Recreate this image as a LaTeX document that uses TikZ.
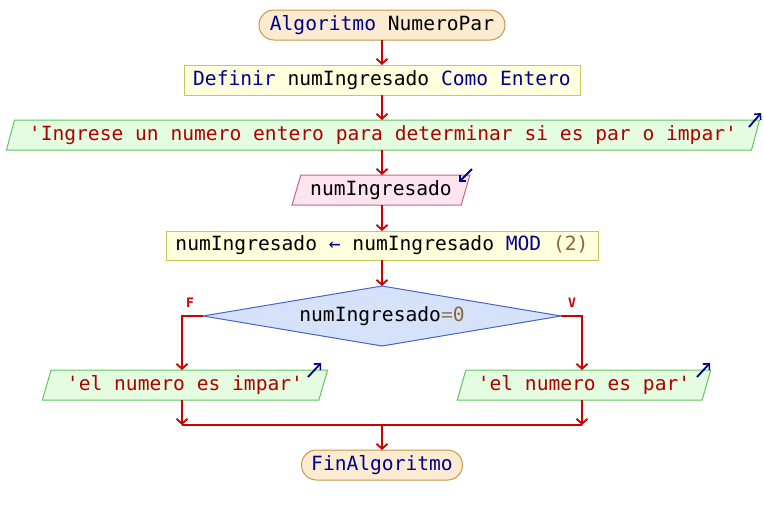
\documentclass[tikz,border=0pt]{standalone}
\usepackage{fontspec}
\setmainfont{DejaVu Sans Mono}
\setmonofont{DejaVu Sans Mono}
\usetikzlibrary{shapes.geometric,shapes.misc,arrows.meta}
\definecolor{kw}{HTML}{000090}
\definecolor{str}{HTML}{B00000}
\definecolor{num}{HTML}{8C6438}
\definecolor{opc}{HTML}{8C7C5C}
\definecolor{flow}{HTML}{CC0000}
\definecolor{termfill}{HTML}{FCEBD0}
\definecolor{termdraw}{HTML}{C8964B}
\definecolor{procfill}{HTML}{FFFFDD}
\definecolor{procdraw}{HTML}{C8C85A}
\definecolor{outfill}{HTML}{E4FCE0}
\definecolor{outdraw}{HTML}{64C464}
\definecolor{infill}{HTML}{FDE4EE}
\definecolor{indraw}{HTML}{C8648C}
\definecolor{condfill}{HTML}{D5E2FA}
\definecolor{conddraw}{HTML}{4664C8}
\begin{document}
\begin{tikzpicture}[x=1pt,y=-1pt,
  font=\ttfamily\fontsize{19.6}{22}\selectfont,
  every node/.style={inner sep=0pt, outer sep=0pt},
  term/.style={rounded rectangle, draw=termdraw, fill=termfill, line width=1pt, minimum height=30pt},
  proc/.style={rectangle, draw=procdraw, fill=procfill, line width=1pt, minimum height=30pt},
  para/.style={trapezium, trapezium stretches=true, trapezium left angle=68, trapezium right angle=112, line width=1pt, minimum height=30pt},
  outbox/.style={para, draw=outdraw, fill=outfill},
  inbox/.style={para, draw=indraw, fill=infill},
  cond/.style={diamond, draw=conddraw, fill=condfill, line width=1pt, aspect=6, minimum width=358pt, minimum height=60pt},
  flowline/.style={draw=flow, line width=2pt},
  flowarrow/.style={flowline, -{Straight Barb[length=5pt,width=11pt,line width=1.8pt]}},
  icon/.style={draw=kw, line width=1.8pt, -{Straight Barb[length=4.5pt,width=9pt,line width=1.6pt]}},
  tf/.style={text=flow, font=\ttfamily\fontsize{13}{14}\selectfont\bfseries}
]
\useasboundingbox (0,0) rectangle (764,515);

\node[term, minimum width=246pt] (start) at (382,25) {\textcolor{kw}{Algoritmo} NumeroPar};
\node[proc, minimum width=396pt] (def) at (382,80) {\textcolor{kw}{Definir} numIngresado \textcolor{kw}{Como} \textcolor{kw}{Entero}};
\node[outbox, minimum width=758pt] (out1) at (383,135) {\textcolor{str}{'Ingrese un numero entero para determinar si es par o impar'}};
\node[inbox, minimum width=178pt] (in1) at (381,190) {numIngresado};
\node[proc, minimum width=432pt, minimum height=29pt] (asg) at (382,245.5) {numIngresado \textcolor{kw}{←} numIngresado \textcolor{kw}{MOD} \textcolor{num}{(2)}};
\node[cond] (cnd) at (382,316) {numIngresado\textcolor{opc}{=}\textcolor{num}{0}};
\node[outbox, minimum width=286pt] (outL) at (185,385) {\textcolor{str}{'el numero es impar'}};
\node[outbox, minimum width=254pt] (outR) at (584,385) {\textcolor{str}{'el numero es par'}};
\node[term, minimum width=161pt] (fin) at (382,465) {\textcolor{kw}{FinAlgoritmo}};

\node[tf] (lf) at (190,303) {F};
\node[tf] (lv) at (572,303) {V};

\coordinate (fL) at (182,316);
\coordinate (fR) at (582,316);
\coordinate (mL) at (182,425);
\coordinate (mR) at (582,425);
\coordinate (mC) at (382,425);

\draw[flowarrow] (start.south) -- (def.north);
\draw[flowarrow] (def.south) -- (def.south |- out1.north);
\draw[flowarrow] (def.south |- out1.south) -- (def.south |- in1.north);
\draw[flowarrow] (def.south |- in1.south) -- (asg.north);
\draw[flowarrow] (asg.south) -- (cnd.north);
\draw[flowarrow] (cnd.west) -- (fL) -- (fL |- outL.north);
\draw[flowarrow] (cnd.east) -- (fR) -- (fR |- outR.north);
\draw[flowarrow] (fL |- outL.south) -- (mL);
\draw[flowarrow] (fR |- outR.south) -- (mR);
\draw[flowline] (mL) -- (mR);
\draw[flowarrow] (mC) -- (fin.north);

\coordinate (i1a) at (749,127); \coordinate (i1b) at (761,113);
\coordinate (i2a) at (472,169); \coordinate (i2b) at (459,182);
\coordinate (i3a) at (308,377); \coordinate (i3b) at (321,363);
\coordinate (i4a) at (697,377); \coordinate (i4b) at (710,363);
\draw[icon] (i1a) -- (i1b);
\draw[icon] (i2a) -- (i2b);
\draw[icon] (i3a) -- (i3b);
\draw[icon] (i4a) -- (i4b);
\end{tikzpicture}
\end{document}
